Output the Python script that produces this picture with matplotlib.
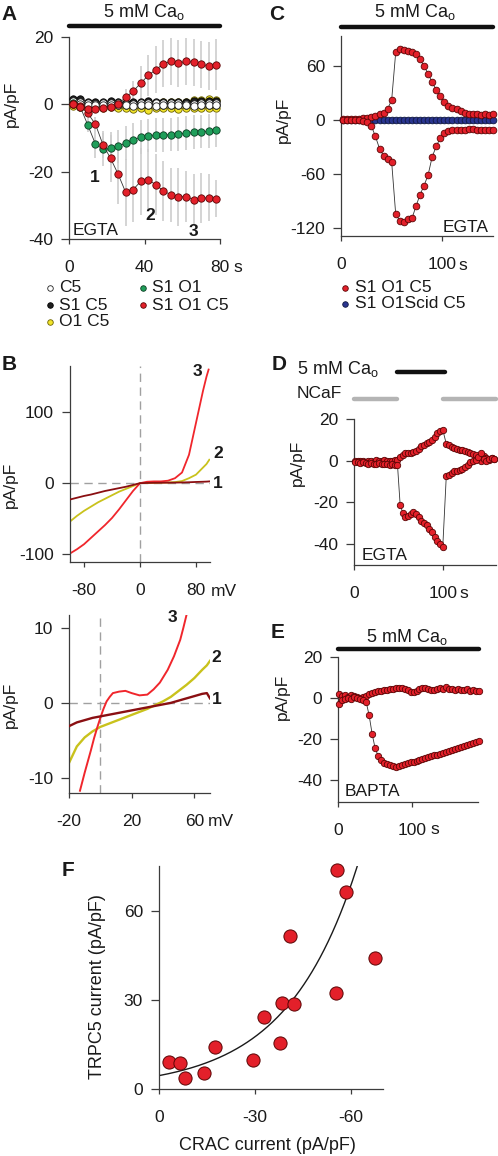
import numpy as np
import matplotlib
matplotlib.use('Agg')
import matplotlib.pyplot as plt
from matplotlib.lines import Line2D
from matplotlib.transforms import blended_transform_factory as btf

plt.rcParams['font.family'] = ['Liberation Sans', 'DejaVu Sans']
plt.rcParams['axes.unicode_minus'] = False
plt.rcParams['mathtext.fontset'] = 'custom'
plt.rcParams['mathtext.rm'] = 'Liberation Sans'
plt.rcParams['mathtext.it'] = 'Liberation Sans:italic'

# ---------------- DATA ----------------
# Panel A (time in s, pA/pF)
A_t = [2, 6, 10, 14, 18, 22, 26, 30, 34, 38, 42, 46, 50, 54, 58, 62, 66, 70, 74, 78]
A_red_up = [0, -0.7, -1.5, -1.4, -1.1, -0.7, 0, 2.1, 3.9, 6.3, 8.6, 10.3, 12.0, 12.8, 12.2, 12.8, 12.5, 11.9, 11.4, 11.8]
A_red_up_sd = [0.5, 0.5, 0.8, 1, 1.2, 1.5, 2, 2.5, 3, 5, 6, 7, 7, 7, 7, 7, 7, 7, 7, 7.5]
A_red_lo = [0, -0.5, -2.7, -5.9, -12, -16, -20.7, -26.1, -25.3, -22.9, -22.4, -23.9, -25.7, -26.9, -27.5, -27.4, -28.3, -27.8, -27.8, -28.0]
A_red_lo_sd = [0.5, 0.5, 1, 2, 4, 7, 9, 10, 9.7, 10, 9, 9, 9, 8, 8.5, 7.6, 7.5, 7.5, 7, 5.5]
A_green = [0.3, -0.8, -6.2, -11.8, -13.4, -13.1, -12.5, -11.5, -10.5, -9.8, -9.3, -9.1, -9.1, -9.0, -8.8, -8.6, -8.3, -8.1, -8.0, -7.6]
A_green_sd = [0.5, 0.5, 2, 4, 5, 5, 5, 5, 5, 5, 5, 5, 5, 5, 5, 5, 5, 5, 5, 5]
A_black_up = [1.5, 1.5, 0.8, 0.6, 0.8, 1.0, 0.7, 0.5, 0.6, 0.8, 0.9, 0.7, 0.6, 0.6, 0.7, 0.8, 0.9, 0.9, 0.9, 1.0]
A_black_lo = [0.5, 0.5, 0.0, -0.2, -0.3, -0.2, -0.3, -0.2, -0.2, -0.3, -0.2, -0.2, -0.3, -0.2, -0.2, -0.3, -0.2, -0.2, -0.3, -0.2]
A_white_up = [1.0, 0.8, 0.3, 0.2, 0.3, 0.5, 0.3, 0.2, 0.2, 0.3, 0.3, 0.3, 0.3, 0.3, 0.3, 0.2, 0.2, 0.3, 0.3, 0.3]
A_white_lo = [0.2, 0.0, -0.3, -0.3, -0.2, -0.3, -0.3, -0.3, -0.4, -0.3, -0.3, -0.4, -0.3, -0.3, -0.3, -0.3, -0.4, -0.3, -0.3, -0.3]
A_yel_up = [0.5, 0.4, 0.3, 0.3, 0.4, 0.3, 0.3, 0.4, 0.4, 0.5, 0.6, 0.5, 0.6, 0.6, 0.7, 0.8, 1.3, 1.2, 1.5, 1.4]
A_yel_lo = [-0.5, -0.8, -1.0, -1.2, -1.0, -0.8, -1.0, -1.2, -1.3, -1.2, -1.6, -1.2, -1.2, -1.2, -1.3, -1.2, -1.2, -1.1, -1.2, -1.2]
A_labels = ['C5', 'S1 C5', 'O1 C5', 'S1 O1', 'S1 O1 C5']

# Panel B top (mV, pA/pF)
B_mv = [-100, -90, -80, -70, -60, -50, -40, -30, -20, -10, 0, 10, 20, 30, 40, 50, 60, 70, 80, 90, 95, 99]
B_1 = [-23, -20.5, -18, -16, -13.5, -11, -9, -7, -5, -2.5, 0, 0.3, 0.5, 0.6, 0.7, 0.8, 1.0, 1.3, 1.7, 2.0, 2.2, 2.5]
B_2 = [-54, -46, -39, -33, -27, -22, -17, -12, -8, -4, 0, 0.3, 0.5, 0.8, 1.0, 1.5, 3, 7, 12, 22, 27, 33]
B_3mv = [-100, -90, -80, -70, -60, -50, -40, -30, -20, -10, 0, 10, 20, 30, 40, 50, 60, 70, 80, 90, 95, 98]
B_3 = [-99, -93, -86, -77, -68, -59, -49, -37, -24, -11, 0, 2, 2.5, 2.5, 3.5, 7, 15, 40, 85, 130, 150, 160]

# Panel B bottom (zoom)
Bz_mv = [-20, -15, -10, -5, 0, 5, 10, 15, 20, 25, 30, 35, 40, 45, 50, 55, 60, 65, 68, 70]
Bz_1 = [-3.1, -2.6, -2.3, -2.0, -1.8, -1.6, -1.4, -1.2, -1.0, -0.8, -0.6, -0.4, -0.2, 0.0, 0.3, 0.6, 0.9, 1.2, 1.3, 0.6]
Bz_2 = [-8.0, -5.8, -4.6, -3.8, -3.2, -2.8, -2.4, -2.0, -1.6, -1.2, -0.8, -0.3, 0.2, 0.8, 1.6, 2.4, 3.3, 4.4, 5.0, 5.6]
Bz_3mv = [-13, -10, -8, -6, -4, -2, 0, 2, 4, 6, 8, 12, 16, 20, 25, 30, 34, 38, 43, 47, 51, 53, 55]
Bz_3 = [-11.7, -9.3, -7.8, -6.3, -4.7, -3.3, -2.0, -0.8, 0.2, 0.8, 1.3, 1.5, 1.6, 1.3, 1.0, 1.1, 1.8, 2.7, 4.4, 6.2, 8.4, 10.0, 11.7]

# Panel C
C_t = [2, 6, 10, 14, 18, 22, 26, 30, 34, 38, 42, 46, 50, 54, 58, 62, 66, 70, 74, 78,
       82, 86, 90, 94, 98, 102, 106, 110, 114, 118, 122, 126, 130, 134, 138, 142, 146, 150]
C_up = [0.5, 0.5, 0.6, 0.8, 1.0, 1.5, 2.4, 3.4, 4.6, 6.0, 7.6, 12, 22, 75, 78.5, 77, 76.5, 75, 73, 67,
        59.5, 51, 41.5, 33, 26, 20, 15.3, 13.5, 11.8, 9.5, 7.5, 6.8, 6.5, 6.3, 5.8, 6.0, 5.8, 6.2]
C_lo = [0, -0.2, -0.3, -0.5, -0.7, -1.2, -2.5, -7, -18.5, -32, -40, -44, -47, -105, -112, -114, -110, -109.5, -96, -83,
        -73, -61, -41, -29.5, -20, -14.8, -12.6, -11.5, -11, -10.8, -10.8, -10.5, -10.7, -10.8, -10.8, -10.8, -10.8, -10.8]
C_blue = [0.0, 0.0, 0.0, 0.0, 0.0, 0.0, 0.0, 0.0, 0.0, 0.0, 0.0, 0.0, 0.0, 0.0, 0.0, 0.0, 0.0, 0.0, 0.0, 0.0,
          0.0, 0.0, 0.0, 0.0, 0.0, 0.0, 0.0, 0.0, 0.0, 0.0, 0.0, 0.0, 0.0, 0.0, 0.0, 0.0, 0.0, 0.0]
C_labels = ['S1 O1 C5', 'S1 O1Scid C5']

# Panel D
D_t1 = [1, 4, 7, 10, 13, 16, 19, 22, 25, 28, 31, 34, 37, 40, 43, 46, 49, 52, 55, 58, 61, 64, 67, 70,
        73, 76, 79, 82, 85, 88, 91, 94, 97, 100]
D_up1 = [0, -0.3, 0, -0.3, -0.5, 0, -0.3, -0.5, 0.2, -0.3, 0, 0.5, -0.2, 0, -0.3, 0.2, 0.5, 1.6, 2.8, 3.5,
         3.7, 3.5, 4.0, 4.5, 5.5, 6.9, 7.5, 8.3, 9.0, 10.0, 11.5, 13.3, 14.3, 14.9]
D_lo1 = [-0.5, -0.8, -1.0, -0.8, -1.2, -1.5, -1.0, -1.5, -1.8, -1.2, -1.5, -1.8, -1.5, -2.0, -1.8, -2.2, -2.0,
         -21.2, -25, -27, -26.7, -25.5, -24.8, -25.5, -26.8, -29, -30, -31, -32.5, -34, -36.5, -38.5, -40, -41.5]
D_t2 = [104, 107, 110, 113, 116, 119, 122, 125, 128, 131, 134, 137, 140, 143, 146, 149, 152, 155, 158]
D_up2 = [8, 7.5, 6.5, 6.1, 5.5, 5.3, 5.0, 4.5, 4.0, 3.7, 3.0, 2.8, 1.5, 0, 2.5, 1.5, 0.5, 1.5, 1.0]
D_lo2 = [-7.2, -6.7, -6.0, -5.1, -4.8, -4.4, -3.8, -3.2, -2.0, -0.8, -0.3, 0.5, 2.0, 3.7, 1.0, -0.3, 0.8, 1.3, 0.8]
D_ca = (48, 102)
D_ncaf = [(0, 49), (100, 160)]

# Panel E
E_t = [2, 6, 10, 14, 18, 22, 26, 30, 34, 38, 42, 46, 50, 54, 58, 62, 66, 70, 74, 78, 82, 86, 90, 94,
       98, 102, 106, 110, 114, 118, 122, 126, 130, 134, 138, 142, 146, 150, 154, 158, 162, 166, 170, 174,
       178, 182, 186, 190]
E_up = [2, 1, 1.5, 0.5, 1.5, 1, 0.5, 0, 0.5, 1.0, 2.0, 2.5, 3.0, 3.5, 3.5, 4.0, 4.0, 4.5, 4.5, 5.0, 5.0, 5.0,
        4.5, 4.0, 3.0, 3.0, 3.5, 4.5, 5.0, 5.0, 4.5, 4.0, 4.0, 4.5, 5.0, 4.5, 5.5, 4.5, 4.5, 4.0, 4.5, 4.0,
        4.0, 4.5, 3.5, 4.0, 3.5, 3.5]
E_lo = [-3, -1, -0.5, 0, -0.5, 0.5, 0, -0.5, -1.0, -2.0, -8.5, -17.5, -24.5, -28.3, -30.5, -32, -32.6, -33,
        -33.5, -34, -33.5, -33, -32.5, -32, -31.5, -31.5, -31, -30.5, -30, -29.5, -29.0, -28.5, -28.2, -27.8,
        -27.5, -27.0, -26.5, -25.8, -25.5, -25.0, -24.5, -24.0, -23.5, -23.0, -22.5, -22.0, -21.5, -21.0]

# Panel F
F_crac = [-55.5, -58.4, -40.8, -67.5, -55.2, -38.4, -42.2, -32.9, -37.9, -17.4, -29.3, -3.1, -6.6, -14.1, -8.1]
F_trpc5 = [73.8, 66.2, 51.6, 44.0, 32.4, 28.8, 28.5, 24.1, 15.6, 14.0, 9.6, 9.2, 8.8, 5.3, 3.6]
F_fit_a = 4.5      # fitted amplitude (pA/pF)
F_fit_k = 0.0454   # fitted exponential rate (1/(pA/pF))
F_fit_range = (0, -63)

# ---------------- STYLE ----------------
RED = '#e3202a'; RED_E = '#5a0505'
GREEN = '#1f9e5a'; GREEN_E = '#0b3d22'
YEL = '#f2e42a'; YEL_E = '#6b6200'
BLK = '#1e1e1e'; WHT = '#ffffff'
NAVY = '#2a3590'; NAVY_E = '#101840'
AXC = '#3c3c3c'
FS = 12.5
W, H = 498, 1156
fig = plt.figure(figsize=(W / 100, H / 100), dpi=100)


def axpx(l, t, r, b):
    return fig.add_axes([l / W, 1 - b / H, (r - l) / W, (b - t) / H])


def ftext(x, y, s, **kw):
    kw.setdefault('fontsize', FS)
    kw.setdefault('color', '#1a1a1a')
    fig.text(x / W, 1 - y / H, s, **kw)


def style(ax):
    for s in ['top', 'right']:
        ax.spines[s].set_visible(False)
    for s in ['left', 'bottom']:
        ax.spines[s].set_color(AXC)
        ax.spines[s].set_linewidth(0.9)
    ax.tick_params(axis='y', direction='out', length=5.5, width=0.9, color=AXC,
                   labelsize=FS, pad=6, labelcolor='#1a1a1a')
    ax.tick_params(axis='x', direction='out', length=3.5, width=0.9, color=AXC,
                   labelsize=FS, pad=11.5, labelcolor='#1a1a1a')
    ax.patch.set_alpha(0)


def bar(ax, x0, x1, ypx, color, lw=3.2):
    tr = btf(ax.transData, fig.transFigure)
    ax.add_line(Line2D([x0, x1], [1 - ypx / H] * 2, transform=tr, color=color, lw=lw,
                       solid_capstyle='round', clip_on=False))


def series(ax, x, y, fc, ec, ms, z=3, lc='#333333', lw=0.6):
    ax.plot(x, y, '-', color=lc, lw=lw, zorder=z, clip_on=False)
    ax.plot(x, y, 'o', mfc=fc, mec=ec, mew=0.6, ms=ms, zorder=z + 0.5, clip_on=False, lw=0)


CAO = '5 mM Ca$_{\\mathregular{o}}$'

# ---------------- PANEL A ----------------
axA = axpx(69, 37, 220, 239)
style(axA)
axA.set_xlim(0, 80); axA.set_ylim(-40, 20)
axA.set_xticks([0, 40, 80]); axA.set_yticks([-40, -20, 0, 20])
for y, sd in [(A_red_up, A_red_up_sd), (A_red_lo, A_red_lo_sd), (A_green, A_green_sd)]:
    y = np.array(y); sd = np.array(sd)
    axA.vlines(A_t, y - sd, y + sd, color='#cdcdcd', lw=1.2, zorder=1)
msA = 5.3
series(axA, A_t, A_yel_lo, YEL, YEL_E, msA, z=3)
series(axA, A_t, A_yel_up, YEL, YEL_E, msA, z=3)
series(axA, A_t, A_black_up, BLK, '#000000', msA, z=4)
series(axA, A_t, A_black_lo, BLK, '#000000', msA, z=4)
series(axA, A_t, A_white_up, WHT, '#222222', msA, z=5)
series(axA, A_t, A_white_lo, WHT, '#222222', msA, z=5)
series(axA, A_t, A_green, GREEN, GREEN_E, msA, z=6)
series(axA, A_t, A_red_lo, RED, RED_E, msA, z=7)
series(axA, A_t, A_red_up, RED, RED_E, msA, z=7)
bar(axA, 0, 80, 26, '#111111')
ftext(144, 12, CAO, ha='center', va='center', fontsize=13)
ftext(238, 267, 's', ha='center', va='center')
ftext(73, 230, 'EGTA', ha='left', va='center')
ftext(95, 177, '1', ha='center', va='center', fontweight='bold')
ftext(150, 215, '2', ha='center', va='center', fontweight='bold')
ftext(193, 232, '3', ha='center', va='center', fontweight='bold')
ftext(11, 104, 'pA/pF', rotation=90, ha='center', va='center')
ftext(9, 14, 'A', ha='center', va='center', fontsize=15, fontweight='bold')

# legend A
lax = fig.add_axes([0, 0, 1, 1]); lax.set_xlim(0, W); lax.set_ylim(H, 0); lax.axis('off')
lax.patch.set_alpha(0)
legA = [(50, 288, WHT, '#222222'), (50, 305, BLK, '#000000'), (50, 322, YEL, YEL_E),
        (143, 288, GREEN, GREEN_E), (143, 305, RED, RED_E)]
for (x, y, fc, ec), lab in zip(legA, A_labels):
    lax.plot([x], [y], 'o', mfc=fc, mec=ec, mew=0.6, ms=4.0)
    ftext(x + 9, y, lab, ha='left', va='center')

# ---------------- PANEL B top ----------------
axB = axpx(70, 366, 210, 562)
style(axB)
axB.set_xlim(-100, 100); axB.set_ylim(-111, 165)
axB.set_xticks([-80, 0, 80]); axB.set_yticks([-100, 0, 100])
axB.axhline(0, color='#a0a0a0', lw=1.0, ls=(0, (6, 4)), zorder=1)
axB.axvline(0, color='#a0a0a0', lw=1.0, ls=(0, (6, 4)), zorder=1)
axB.plot(B_mv, B_1, color='#8a0f12', lw=1.3, zorder=3)
axB.plot(B_mv, B_2, color='#c9c21c', lw=1.3, zorder=2)
axB.plot(B_3mv, B_3, color='#f0262c', lw=1.3, zorder=2.5)
ftext(224, 591, 'mV', ha='center', va='center')
ftext(197, 372, '3', ha='center', va='center', fontweight='bold')
ftext(218, 453, '2', ha='center', va='center', fontweight='bold')
ftext(218, 483, '1', ha='center', va='center', fontweight='bold')
ftext(10, 485, 'pA/pF', rotation=90, ha='center', va='center')
ftext(9, 365, 'B', ha='center', va='center', fontsize=15, fontweight='bold')

# ---------------- PANEL B bottom ----------------
axBz = axpx(69, 615, 210, 793)
style(axBz)
axBz.set_xlim(-20, 70); axBz.set_ylim(-12, 11.7)
axBz.set_xticks([-20, 20, 60]); axBz.set_yticks([-10, 0, 10])
axBz.axhline(0, color='#a0a0a0', lw=1.0, ls=(0, (6, 4)), zorder=1)
axBz.axvline(0, color='#a0a0a0', lw=1.0, ls=(0, (6, 4)), zorder=1)
axBz.plot(Bz_mv, Bz_2, color='#c9c21c', lw=1.7, zorder=2)
axBz.plot(Bz_mv, Bz_1, color='#8a0f12', lw=1.7, zorder=3)
axBz.plot(Bz_3mv, Bz_3, color='#f0262c', lw=1.4, zorder=2.5)
ftext(221, 822, 'mV', ha='center', va='center')
ftext(172, 618, '3', ha='center', va='center', fontweight='bold')
ftext(216, 657, '2', ha='center', va='center', fontweight='bold')
ftext(217, 700, '1', ha='center', va='center', fontweight='bold')
ftext(10, 705, 'pA/pF', rotation=90, ha='center', va='center')

# ---------------- PANEL C ----------------
axC = axpx(341, 36, 493, 236)
style(axC)
axC.set_xlim(0, 150); axC.set_ylim(-129, 93)
axC.set_xticks([0, 100]); axC.set_yticks([-120, -60, 0, 60])
series(axC, C_t, C_blue, NAVY, NAVY_E, 4.8, z=3)
series(axC, C_t, C_up, RED, RED_E, 4.8, z=5)
series(axC, C_t, C_lo, RED, RED_E, 4.8, z=5)
bar(axC, 0, 150, 27, '#111111')
ftext(415, 12, CAO, ha='center', va='center', fontsize=13)
ftext(463, 266, 's', ha='center', va='center')
ftext(489, 227, 'EGTA', ha='right', va='center')
ftext(283, 120, 'pA/pF', rotation=90, ha='center', va='center')
ftext(277, 15, 'C', ha='center', va='center', fontsize=15, fontweight='bold')
legC = [(345, 288, RED, RED_E), (345, 304, NAVY, NAVY_E)]
for (x, y, fc, ec), lab in zip(legC, C_labels):
    lax.plot([x], [y], 'o', mfc=fc, mec=ec, mew=0.6, ms=4.0)
    ftext(x + 10, y, lab, ha='left', va='center')

# ---------------- PANEL D ----------------
axD = axpx(354, 419, 496, 565)
style(axD)
axD.set_xlim(0, 160); axD.set_ylim(-50, 20)
axD.set_xticks([0, 100]); axD.set_yticks([-40, -20, 0, 20])
series(axD, D_t1 + D_t2, D_up1 + D_up2, RED, RED_E, 4.6, z=5)
series(axD, D_t1 + D_t2, D_lo1 + D_lo2, RED, RED_E, 4.6, z=5)
bar(axD, D_ca[0], D_ca[1], 372, '#111111')
for a, b in D_ncaf:
    bar(axD, a, b, 399, '#b4b4b4')
ftext(297, 369, CAO, ha='left', va='center', fontsize=13)
ftext(297, 394, 'NCaF', ha='left', va='center')
ftext(464, 593, 's', ha='center', va='center')
ftext(362, 555, 'EGTA', ha='left', va='center')
ftext(297, 463, 'pA/pF', rotation=90, ha='center', va='center')
ftext(279, 365, 'D', ha='center', va='center', fontsize=15, fontweight='bold')

# ---------------- PANEL E ----------------
axE = axpx(338, 657, 478, 802)
style(axE)
axE.set_xlim(0, 189); axE.set_ylim(-51, 20)
axE.set_xticks([0, 100]); axE.set_yticks([-40, -20, 0, 20])
series(axE, E_t, E_up, RED, RED_E, 4.6, z=5)
series(axE, E_t, E_lo, RED, RED_E, 4.6, z=5)
bar(axE, 0, 190, 649, '#111111')
ftext(407, 637, CAO, ha='center', va='center', fontsize=13)
ftext(435, 830, 's', ha='center', va='center')
ftext(345, 792, 'BAPTA', ha='left', va='center')
ftext(282, 697, 'pA/pF', rotation=90, ha='center', va='center')
ftext(278, 632, 'E', ha='center', va='center', fontsize=15, fontweight='bold')

# ---------------- PANEL F ----------------
axF = axpx(159, 866, 383, 1089)
style(axF)
axF.set_xlim(0, -70); axF.set_ylim(0, 75)
axF.set_xticks([0, -30, -60]); axF.set_yticks([0, 30, 60])
xf = np.linspace(F_fit_range[0], F_fit_range[1], 200)
axF.plot(xf, F_fit_a * np.exp(-F_fit_k * xf), color='#1a1a1a', lw=1.0, zorder=2)
axF.plot(F_crac, F_trpc5, 'o', mfc=RED, mec=RED_E, mew=0.7, ms=9.5, zorder=4, clip_on=False, lw=0)
ftext(97, 987, 'TRPC5 current (pA/pF)', rotation=90, ha='center', va='center', fontsize=13)
ftext(267, 1146, 'CRAC current (pA/pF)', ha='center', va='center', fontsize=13)
ftext(68, 870, 'F', ha='center', va='center', fontsize=15, fontweight='bold')

fig.savefig('out.png', dpi=100)
